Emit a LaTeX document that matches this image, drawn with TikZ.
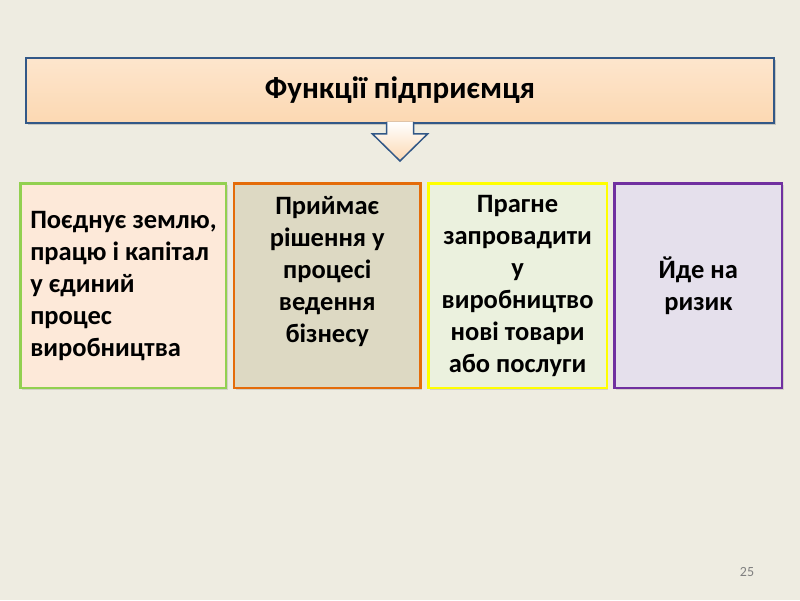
\documentclass[tikz,border=0pt]{standalone}
\usepackage{fontspec}
\setmainfont{Carlito}
\usepackage{tikz}
\usetikzlibrary{shadows}
\usetikzlibrary{backgrounds}
\definecolor{slide}{RGB}{238,236,225}
\definecolor{titleline}{RGB}{50,88,135}
\definecolor{peach}{RGB}{252,216,178}
\definecolor{greenline}{RGB}{146,208,80}
\definecolor{greenfill}{RGB}{253,233,217}
\definecolor{orangeline}{RGB}{228,108,10}
\definecolor{orangefill}{RGB}{221,217,195}
\definecolor{yellowline}{RGB}{255,255,0}
\definecolor{yellowfill}{RGB}{235,241,222}
\definecolor{purpleline}{RGB}{112,48,160}
\definecolor{purplefill}{RGB}{229,224,236}
\tikzstyle{heading}=[rectangle,
draw=titleline,
line width=2.5pt,
outer sep=0pt,
top color=peach!65!white,
middle color=peach,
bottom color=peach,
minimum width=748pt,
minimum height=65pt,
font=\fontsize{31}{37}\selectfont\bfseries,
drop shadow={opacity=0.35,shadow xshift=1.5pt,shadow yshift=-2pt}]
\tikzstyle{role}=[rectangle,
line width=2.5pt,
outer sep=0pt,
minimum height=204.5pt,
inner xsep=8pt,
inner ysep=2pt,
font=\fontsize{26.5}{32}\selectfont\bfseries,
drop shadow={opacity=0.25,shadow xshift=1.5pt,shadow yshift=-1.5pt}]
\tikzstyle{downarrow}=[draw=titleline,
line width=1.5pt,
line join=miter,
top color=white,
bottom color=peach]

\begin{document}
\begin{tikzpicture}[x=1pt,y=1pt]
	% Heading with the arrow pointing to the functions
	\node (title) [heading] at (400,509.5) {Функції підприємця};
	\filldraw[downarrow,shift={(title.south)}]
	(-13.5,1.2) -- (-13.5,-11) -- (-27.5,-11) -- (0,-38)
	-- (27.5,-11) -- (13.5,-11) -- (13.5,1.2);
	
	% The four functions sit side by side in a matrix:
	\matrix[column sep=5.3pt,inner sep=0pt,anchor=north west] at (19.25,417.75) {
		\node (combine) [role,draw=greenline,fill=greenfill,
		minimum width=205.5pt,align=left]
		{Поєднує землю,\\працю і капітал\\у єдиний\\процес\\виробництва}; &
		\node (decide) [role,draw=orangeline,fill=orangefill,
		minimum width=186.5pt,align=center]
		{Приймає\\рішення у\\процесі\\ведення\\бізнесу\\\mbox{}}; &
		\node (innovate) [role,draw=yellowline,fill=yellowfill,
		minimum width=178.5pt,align=center]
		{Прагне\\запровадити\\у\\виробництво\\нові товари\\або послуги}; &
		\node (risk) [role,draw=purpleline,fill=purplefill,
		minimum width=167.5pt,align=center]
		{Йде на\\ризик}; \\
	};
	
	% Slide number
	\node (page) [text=gray,font=\fontsize{14}{16}\selectfont] at (747,28) {25};
	
	% The slide background also fixes the size of the picture.
	\begin{pgfonlayer}{background}
	\fill[slide] (0,0) rectangle (800,600);
	\end{pgfonlayer}
\end{tikzpicture}
\end{document}
